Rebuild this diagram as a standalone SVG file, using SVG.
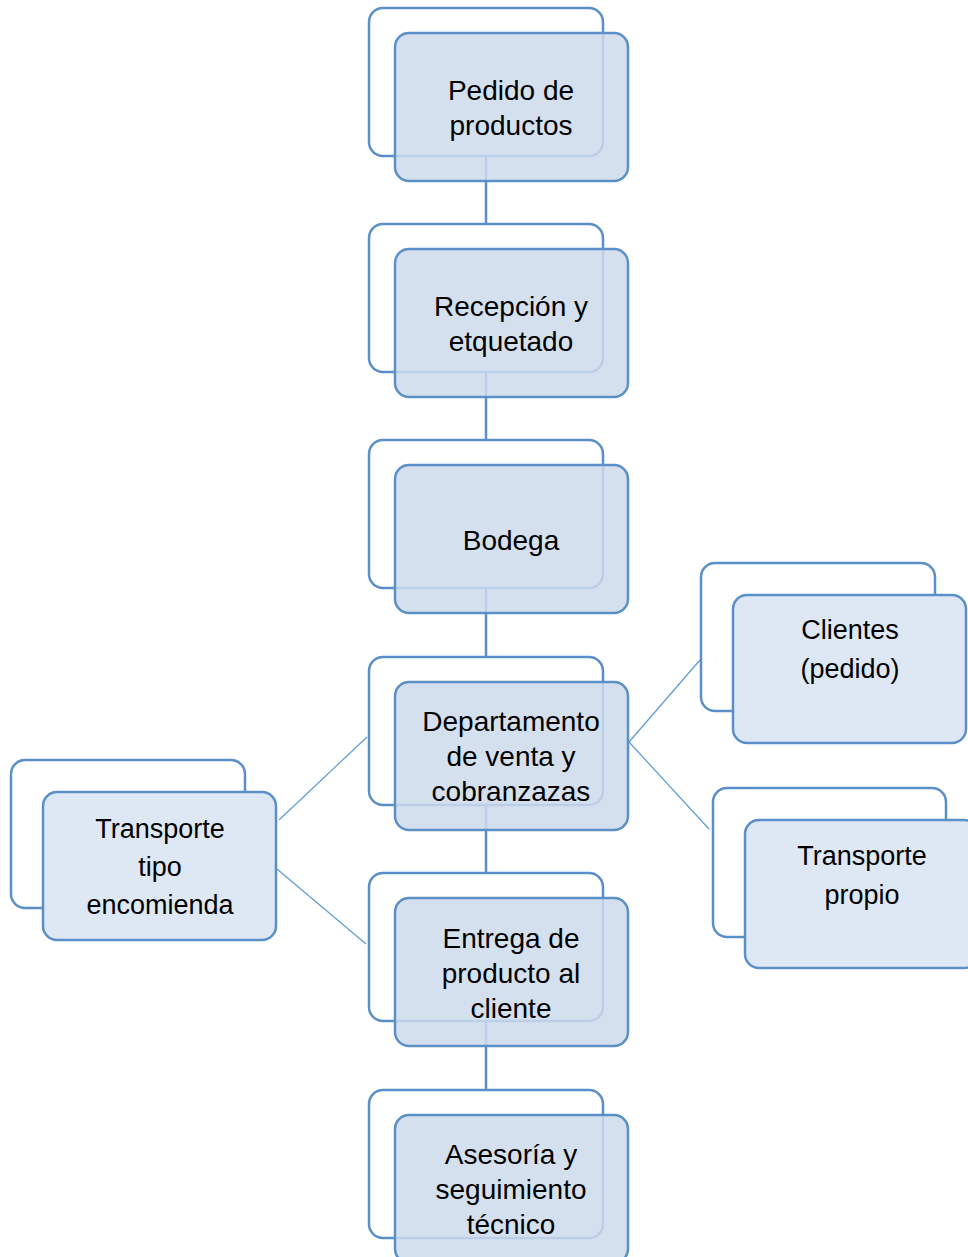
<svg xmlns="http://www.w3.org/2000/svg" width="968" height="1257" viewBox="0 0 968 1257">
<style>
.back{fill:#ffffff;stroke:#5b8fc7;stroke-width:2.5}
.front{fill:#cedaec;fill-opacity:0.85;stroke:#5b8fc7;stroke-width:2.5}
.sfront{fill:#dee8f5;stroke:#5b8fc7;stroke-width:2.5}
.t{font-family:"Liberation Sans",Arial,sans-serif;font-size:28px;fill:#000;text-anchor:middle}
.s{font-family:"Liberation Sans",Arial,sans-serif;font-size:27px;fill:#000;text-anchor:middle}
.c{stroke:#5b9bd5;stroke-width:1.2;fill:none}
.v{stroke:#5b8fc7;stroke-width:2.5;fill:none}
</style>
<rect x="0" y="0" width="968" height="1257" fill="#fff"/>
<g id="connectors">
<line class="v" x1="486" y1="156" x2="486" y2="224"/>
<line class="v" x1="486" y1="372" x2="486" y2="440"/>
<line class="v" x1="486" y1="588" x2="486" y2="657"/>
<line class="v" x1="486" y1="805" x2="486" y2="873"/>
<line class="v" x1="486" y1="1021" x2="486" y2="1090"/>
<line class="c" x1="629" y1="742" x2="700" y2="660"/>
<line class="c" x1="629" y1="742" x2="709" y2="829"/>
<line class="c" x1="279" y1="820" x2="367" y2="737"/>
<line class="c" x1="277" y1="869" x2="366" y2="944"/>
</g>
<g id="n1">
<rect class="back" x="369" y="8" width="234" height="148" rx="14"/>
<rect class="front" x="395" y="33" width="233" height="148" rx="14"/>
<text class="t" x="511" y="100">Pedido de</text>
<text class="t" x="511" y="135">productos</text>
</g>
<g id="n2">
<rect class="back" x="369" y="224" width="234" height="148" rx="14"/>
<rect class="front" x="395" y="249" width="233" height="148" rx="14"/>
<text class="t" x="511" y="316">Recepción y</text>
<text class="t" x="511" y="351">etquetado</text>
</g>
<g id="n3">
<rect class="back" x="369" y="440" width="234" height="148" rx="14"/>
<rect class="front" x="395" y="465" width="233" height="148" rx="14"/>
<text class="t" x="511" y="550">Bodega</text>
</g>
<g id="n4">
<rect class="back" x="369" y="657" width="234" height="148" rx="14"/>
<rect class="front" x="395" y="682" width="233" height="148" rx="14"/>
<text class="t" x="511" y="731">Departamento</text>
<text class="t" x="511" y="766">de venta y</text>
<text class="t" x="511" y="801">cobranzazas</text>
</g>
<g id="n5">
<rect class="back" x="369" y="873" width="234" height="148" rx="14"/>
<rect class="front" x="395" y="898" width="233" height="148" rx="14"/>
<text class="t" x="511" y="948">Entrega de</text>
<text class="t" x="511" y="983">producto al</text>
<text class="t" x="511" y="1018">cliente</text>
</g>
<g id="n6">
<rect class="back" x="369" y="1090" width="234" height="148" rx="14"/>
<rect class="front" x="395" y="1115" width="233" height="148" rx="14"/>
<text class="t" x="511" y="1164">Asesoría y</text>
<text class="t" x="511" y="1199">seguimiento</text>
<text class="t" x="511" y="1234">técnico</text>
</g>
<g id="n7">
<rect class="back" x="701" y="563" width="234" height="148" rx="14"/>
<rect class="sfront" x="733" y="595" width="233" height="148" rx="14"/>
<text class="s" x="850" y="639">Clientes</text>
<text class="s" x="850" y="678">(pedido)</text>
</g>
<g id="n8">
<rect class="back" x="713" y="788" width="233" height="149" rx="14"/>
<rect class="sfront" x="745" y="820" width="233" height="148" rx="14"/>
<text class="s" x="862" y="865">Transporte</text>
<text class="s" x="862" y="904">propio</text>
</g>
<g id="n9">
<rect class="back" x="11" y="760" width="234" height="148" rx="14"/>
<rect class="sfront" x="43" y="792" width="233" height="148" rx="14"/>
<text class="s" x="160" y="838">Transporte</text>
<text class="s" x="160" y="876">tipo</text>
<text class="s" x="160" y="914">encomienda</text>
</g>
</svg>
